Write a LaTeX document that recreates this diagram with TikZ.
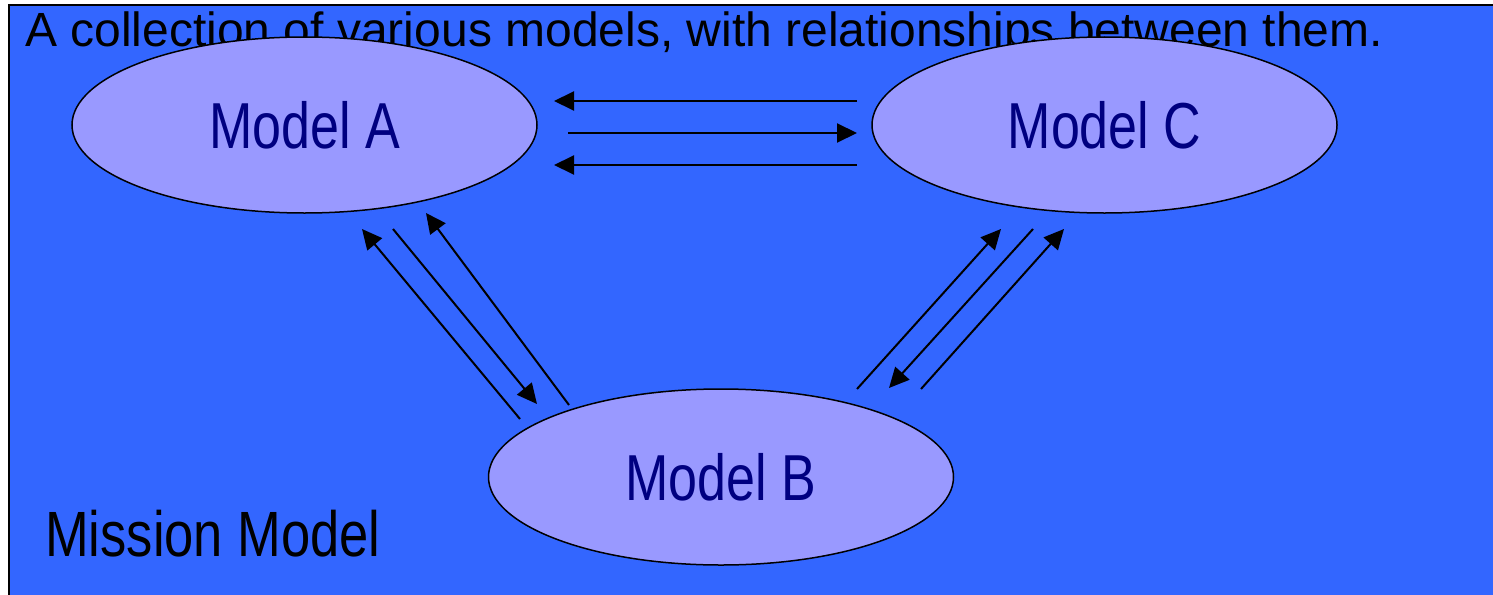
\documentclass[tikz,border=0pt]{standalone}
\usepackage{fontspec}
\setmainfont{Liberation Sans}
\newfontfamily\narrowfont[FakeStretch=0.8]{Liberation Sans}
\newfontfamily\missionfont[FakeStretch=0.82]{Liberation Sans}
\usetikzlibrary{shapes.geometric,arrows.meta}
\definecolor{missionblue}{HTML}{3366FF}
\definecolor{modelfill}{HTML}{9999FF}
\definecolor{modeltext}{HTML}{000080}
\tikzset{
  modelnode/.style={ellipse, draw=black, line width=1.5pt, fill=modelfill,
    minimum width=465pt, minimum height=176pt, inner sep=0pt,
    text=modeltext, font=\narrowfont\fontsize{65}{78}\selectfont},
  relarrow/.style={draw=black, line width=2pt,
    -{Triangle[length=20pt,width=19pt]}},
  plaintext/.style={inner sep=0pt, text=black}
}
\begin{document}
\begin{tikzpicture}[x=1pt,y=-1pt]
  \clip (0,0) rectangle (1493,594);
  \fill[white] (0,0) rectangle (1493,594);
  % mission frame
  \draw[line width=2pt, fill=missionblue] (9,5) rectangle (1510,610);
  % caption along the top, partly covered by the model ellipses
  \node[plaintext, anchor=base west, font=\fontsize{48}{58}\selectfont]
    (caption) at (25,47) {A collection of various models, with relationships between them.};
  \node[plaintext, anchor=base west, font=\missionfont\fontsize{64}{77}\selectfont]
    (mission) at (45,556) {Mission Model};
  % models
  \node[modelnode] (A) at (304.5,125) {Model A};
  \node[modelnode] (C) at (1104.5,125) {Model C};
  \node[modelnode] (B) at (721,477) {Model B};
  % arrow end points between A and C
  \coordinate (ac1s) at (857,101);  \coordinate (ac1e) at (554,101);
  \coordinate (ac2s) at (568,133);  \coordinate (ac2e) at (857,133);
  \coordinate (ac3s) at (857,165);  \coordinate (ac3e) at (554,165);
  % arrow end points between A and B
  \coordinate (ab1s) at (520,419);  \coordinate (ab1e) at (362,229);
  \coordinate (ab2s) at (393,229);  \coordinate (ab2e) at (537,404);
  \coordinate (ab3s) at (569,405);  \coordinate (ab3e) at (426,213);
  % arrow end points between B and C
  \coordinate (bc1s) at (857,389);  \coordinate (bc1e) at (1001,229);
  \coordinate (bc2s) at (1033,229); \coordinate (bc2e) at (889,388);
  \coordinate (bc3s) at (921,389);  \coordinate (bc3e) at (1064,229);
  % relationships
  \draw[relarrow] (ac1s) -- (ac1e);
  \draw[relarrow] (ac2s) -- (ac2e);
  \draw[relarrow] (ac3s) -- (ac3e);
  \draw[relarrow] (ab1s) -- (ab1e);
  \draw[relarrow] (ab2s) -- (ab2e);
  \draw[relarrow] (ab3s) -- (ab3e);
  \draw[relarrow] (bc1s) -- (bc1e);
  \draw[relarrow] (bc2s) -- (bc2e);
  \draw[relarrow] (bc3s) -- (bc3e);
\end{tikzpicture}
\end{document}
